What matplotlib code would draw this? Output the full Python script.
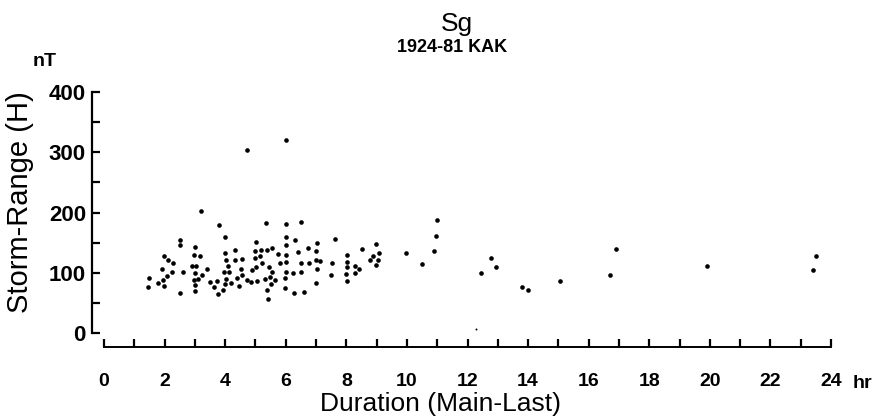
import matplotlib
matplotlib.use("Agg")
import matplotlib.pyplot as plt
from matplotlib.ticker import MultipleLocator

plt.rcParams['font.family'] = ['Liberation Sans', 'DejaVu Sans']

# duration (hr) and storm range (nT)
duration = [
    3.20, 3.81, 3.98, 2.51, 2.51, 2.99, 4.33, 1.98, 2.98, 3.16, 3.99, 2.12,
    4.03, 4.32, 2.27, 4.10, 2.89, 3.04, 3.40, 1.92, 2.23, 2.60, 2.99, 3.95,
    4.12, 2.07, 3.22, 1.49, 1.94, 2.98, 3.10, 4.02, 4.39, 1.78, 3.50, 3.73,
    4.19, 1.98, 3.00, 3.98, 1.45, 3.62, 3.92, 4.45, 2.99, 2.50, 3.77,
    5.35, 6.01, 6.51, 7.62, 5.02, 6.01, 6.30, 7.02, 4.98, 5.17, 5.39, 5.54,
    6.01, 6.72, 7.01, 6.41, 5.73, 6.02, 5.15, 4.97, 4.54, 7.00, 7.13, 5.80,
    6.01, 6.51, 6.78, 5.20, 7.52, 5.03, 5.44, 4.52, 7.03, 4.88, 5.53, 6.01,
    6.23, 6.49, 4.54, 7.49, 5.49, 4.72, 4.86, 5.04, 5.30, 5.63, 5.99, 5.50,
    6.99, 5.37, 5.98, 6.27, 6.60, 5.41, 4.71, 6.02,
    10.98, 10.96, 8.97, 8.51, 9.07, 9.98, 10.88, 8.03, 8.89, 9.04, 8.79,
    8.03, 8.98, 10.50, 8.02, 8.28, 8.42, 8.00, 8.29, 8.01,
    12.76, 12.95, 12.44, 13.81, 13.98, 15.06, 16.69, 16.91, 19.92, 23.42,
    23.49,
]
storm_range = [
    202, 179, 159, 155, 146, 142, 138, 128, 129, 128, 132, 122,
    122, 121, 117, 112, 112, 112, 106, 106, 102, 101, 100, 102,
    101, 95, 96, 91, 88, 88, 90, 90, 92, 83, 84, 86,
    83, 78, 79, 81, 77, 76, 72, 78, 70, 66, 64,
    182, 181, 184, 156, 151, 160, 154, 149, 136, 138, 137, 141,
    146, 141, 136, 134, 131, 130, 127, 124, 123, 121, 119, 117,
    118, 116, 117, 116, 117, 110, 110, 106, 107, 104, 102, 102,
    100, 102, 96, 96, 93, 88, 85, 86, 90, 88, 91, 81,
    83, 71, 75, 66, 68, 57, 303, 321,
    187, 161, 148, 139, 132, 132, 136, 130, 127, 122, 121,
    118, 113, 114, 110, 111, 107, 98, 100, 86,
    125, 110, 100, 77, 72, 87, 96, 139, 111, 104,
    128,
]
# one faint small dot
faint_duration = [12.28]
faint_range = [7]

x_ticks = list(range(0, 25, 2))
y_ticks = [0, 100, 200, 300, 400]

fig = plt.figure(figsize=(8.78, 4.17), dpi=100)
ax = fig.add_axes([0.1185, 0.2014, 0.828, 0.578])

ax.scatter(duration, storm_range, s=11, color='black', linewidths=0)
ax.scatter(faint_duration, faint_range, s=2, color='black', linewidths=0)

ax.set_xlim(0, 24)
ax.set_ylim(0, 400)

for side in ['top', 'right']:
    ax.spines[side].set_visible(False)
ax.spines['left'].set_position(('outward', 9))
ax.spines['bottom'].set_position(('outward', 10))
ax.spines['left'].set_bounds(0, 400)
ax.spines['bottom'].set_bounds(0, 24)
ax.spines['left'].set_linewidth(1.6)
ax.spines['bottom'].set_linewidth(1.4)

ax.set_xticks(x_ticks)
ax.set_xticklabels([str(t) for t in x_ticks])
ax.xaxis.set_minor_locator(MultipleLocator(1))
ax.set_yticks(y_ticks)
ax.yaxis.set_minor_locator(MultipleLocator(50))

ax.tick_params(axis='both', which='both', direction='in', width=1.6,
               length=5.5)
ax.tick_params(axis='x', labelsize=14, pad=19)
ax.tick_params(axis='y', labelsize=16, pad=4)
for lbl in ax.get_xticklabels() + ax.get_yticklabels():
    lbl.set_fontweight('bold')

fig.text(457 / 878, 1 - 24 / 417, 'Sg', ha='center', va='center', fontsize=19)
fig.text(452 / 878, 1 - 48 / 417, '1924-81 KAK', ha='center', va='center',
         fontsize=13, fontweight='bold')
fig.text(45 / 878, 1 - 62 / 417, 'nT', ha='center', va='center',
         fontsize=14, fontweight='bold')
fig.text(862 / 878, 1 - 383 / 417, 'hr', ha='center', va='center',
         fontsize=14, fontweight='bold')
fig.text(441 / 878, 1 - 404 / 417, 'Duration (Main-Last)', ha='center',
         va='center', fontsize=19)
fig.text(20 / 878, 1 - 202 / 417, 'Storm-Range (H)', ha='center',
         va='center', rotation=90, fontsize=21)

fig.savefig('out.png', dpi=100)
